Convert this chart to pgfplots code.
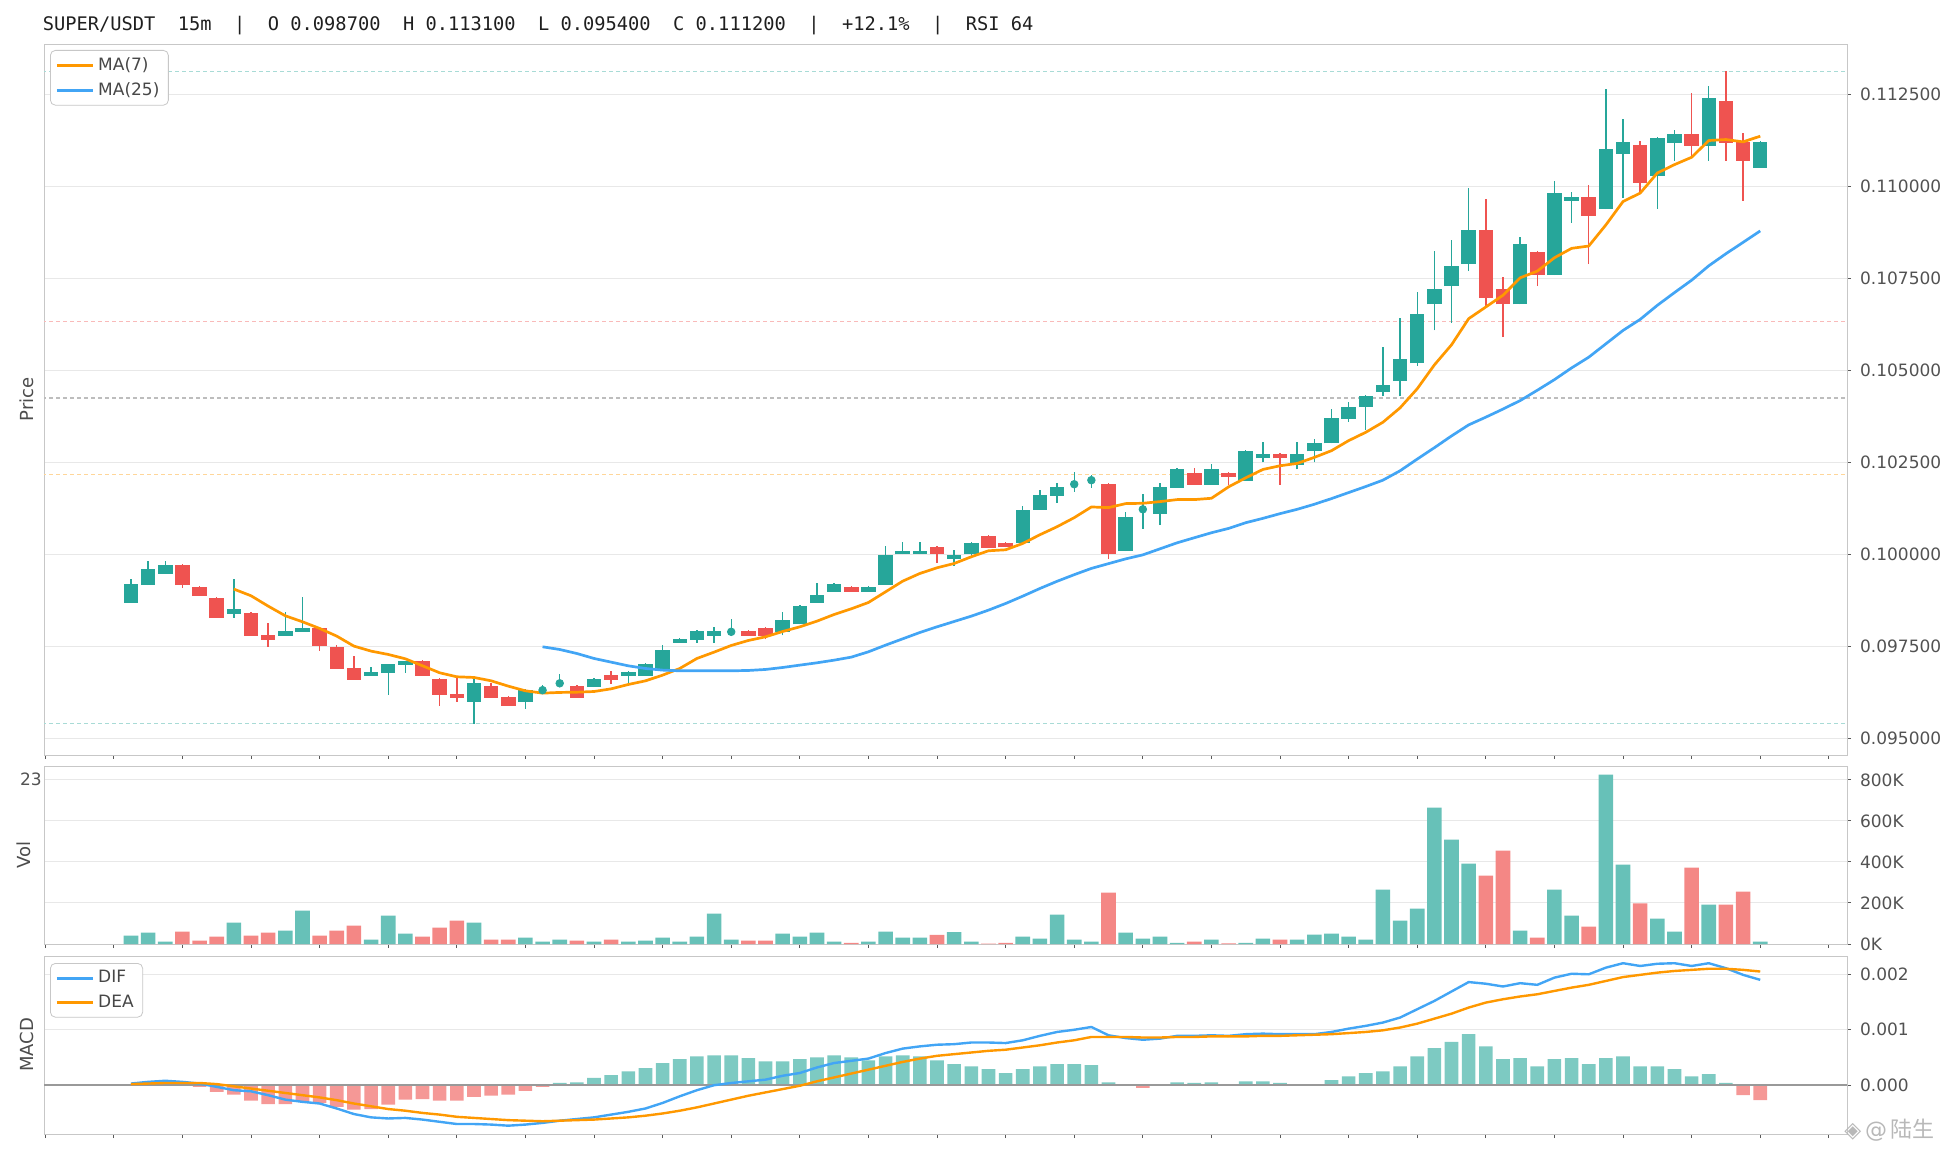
\documentclass[border=0pt]{standalone}
\usepackage{pgfplots}
\pgfplotsset{compat=1.18}
\usepackage{pgfplotstable}
\usepackage{fontspec}
\setmainfont{DejaVu Sans}
\newfontfamily\mono{DejaVu Sans Mono}
\newfontfamily\cjk{Noto Sans CJK SC}
\definecolor{cg}{HTML}{26A69A}
\definecolor{cr}{HTML}{EF5350}
\definecolor{vg}{HTML}{67C1B8}
\definecolor{vr}{HTML}{F48785}
\definecolor{hg}{HTML}{7DCAC2}
\definecolor{hr}{HTML}{F59896}
\definecolor{ma7}{HTML}{FF9800}
\definecolor{ma25}{HTML}{42A5F5}
\definecolor{fibt}{HTML}{A8DBD6}
\definecolor{fibo}{HTML}{FFD699}
\definecolor{fibg}{HTML}{BDBDBD}
\definecolor{fibr}{HTML}{F9BAB9}

\pgfplotstableread{
i o h l c
0 0.098686 0.099320 0.098686 0.099194
1 0.099166 0.099819 0.099166 0.099601
2 0.099475 0.099819 0.099475 0.099710
6 0.098387 0.099320 0.098279 0.098514
9 0.097789 0.098424 0.097789 0.097916
10 0.097898 0.098840 0.097898 0.097998
14 0.096702 0.096938 0.096702 0.096802
15 0.096784 0.097019 0.096186 0.097019
16 0.097001 0.097101 0.096784 0.097101
20 0.095995 0.096603 0.095400 0.096503
23 0.095995 0.096340 0.095805 0.096312
27 0.096393 0.096638 0.096393 0.096611
29 0.096702 0.096828 0.096502 0.096792
30 0.096702 0.097046 0.096702 0.097010
31 0.096874 0.097536 0.096874 0.097400
32 0.097598 0.097725 0.097598 0.097689
33 0.097680 0.097934 0.097598 0.097907
34 0.097789 0.098016 0.097598 0.097907
38 0.097898 0.098423 0.097798 0.098206
39 0.098097 0.098631 0.098097 0.098595
40 0.098686 0.099211 0.098686 0.098894
41 0.098985 0.099220 0.098985 0.099193
43 0.098985 0.099139 0.098985 0.099111
44 0.099176 0.100226 0.099176 0.099982
45 0.100009 0.100334 0.100009 0.100090
46 0.100009 0.100334 0.100009 0.100090
48 0.099882 0.100117 0.099692 0.099982
49 0.100009 0.100334 0.099891 0.100298
52 0.100298 0.101313 0.100298 0.101204
53 0.101208 0.101745 0.101208 0.101608
54 0.101590 0.101936 0.101399 0.101827
58 0.100089 0.101144 0.100089 0.101008
60 0.101099 0.101936 0.100798 0.101827
61 0.101808 0.102345 0.101808 0.102318
63 0.101890 0.102455 0.101890 0.102318
65 0.101999 0.102828 0.101999 0.102800
66 0.102609 0.103046 0.102500 0.102718
68 0.102418 0.103046 0.102309 0.102718
69 0.102800 0.103137 0.102500 0.103019
70 0.103019 0.103956 0.103019 0.103710
71 0.103692 0.104147 0.103610 0.104002
72 0.104002 0.104338 0.103392 0.104302
73 0.104411 0.105640 0.104293 0.104602
74 0.104711 0.106431 0.104293 0.105312
75 0.105194 0.107141 0.105121 0.106522
76 0.106797 0.108235 0.106087 0.107225
77 0.107288 0.108535 0.106296 0.107825
78 0.107889 0.109955 0.107698 0.108808
81 0.106797 0.108635 0.106797 0.108426
83 0.107589 0.110137 0.107589 0.109818
84 0.109609 0.109845 0.109008 0.109709
86 0.109381 0.112657 0.109381 0.111019
87 0.110892 0.111838 0.109691 0.111210
89 0.110291 0.111347 0.109390 0.111320
90 0.111192 0.111538 0.110701 0.111429
92 0.111110 0.112739 0.110701 0.112412
95 0.110510 0.111238 0.110510 0.111200
}\greenC

\pgfplotstableread{
i o h l c m
24 0.096294 0.096449 0.096240 0.096330 0.096312
25 0.096476 0.096748 0.096403 0.096521 0.096498
35 0.097870 0.098242 0.097807 0.097925 0.097897
55 0.101881 0.102236 0.101699 0.101936 0.101908
56 0.101990 0.102145 0.101808 0.102045 0.102017
59 0.101199 0.101636 0.100698 0.101253 0.101226
}\dojiC

\pgfplotstableread{
i o h l c
3 0.099710 0.099737 0.099094 0.099166
4 0.099112 0.099140 0.098877 0.098877
5 0.098813 0.098840 0.098279 0.098279
7 0.098405 0.098432 0.097789 0.097789
8 0.097807 0.098134 0.097490 0.097680
11 0.097998 0.097998 0.097382 0.097509
12 0.097490 0.097527 0.096892 0.096892
13 0.096910 0.097237 0.096593 0.096593
17 0.097092 0.097128 0.096702 0.096702
18 0.096612 0.096648 0.095887 0.096186
19 0.096213 0.096630 0.095995 0.096104
21 0.096421 0.096512 0.096104 0.096104
22 0.096122 0.096150 0.095887 0.095887
26 0.096420 0.096447 0.096103 0.096103
28 0.096720 0.096828 0.096484 0.096593
36 0.097916 0.097943 0.097789 0.097789
37 0.097988 0.098016 0.097689 0.097789
42 0.099111 0.099139 0.098985 0.098985
47 0.100198 0.100226 0.099773 0.100009
50 0.100497 0.100524 0.100180 0.100180
51 0.100298 0.100334 0.100189 0.100189
57 0.101909 0.101936 0.099879 0.100025
62 0.102209 0.102345 0.101890 0.101890
64 0.102209 0.102236 0.101890 0.102109
67 0.102718 0.102746 0.101890 0.102609
79 0.108808 0.109654 0.106697 0.106979
80 0.107225 0.107543 0.105905 0.106797
82 0.108207 0.108235 0.107288 0.107589
85 0.109709 0.110036 0.107889 0.109199
88 0.111128 0.111238 0.109845 0.110100
91 0.111429 0.112548 0.110828 0.111110
93 0.112330 0.113149 0.110701 0.111192
94 0.111210 0.111456 0.109609 0.110701
}\redC

\pgfplotstableread{
i v
6 0.099058
7 0.098877
8 0.098596
9 0.098333
10 0.098170
11 0.097989
12 0.097780
13 0.097509
14 0.097373
15 0.097282
16 0.097164
17 0.096974
18 0.096784
19 0.096675
20 0.096657
21 0.096566
22 0.096421
23 0.096294
24 0.096231
25 0.096250
26 0.096257
27 0.096275
28 0.096348
29 0.096466
30 0.096565
31 0.096720
32 0.096901
33 0.097173
34 0.097345
35 0.097526
36 0.097662
37 0.097761
38 0.097906
39 0.098033
40 0.098187
41 0.098368
42 0.098522
43 0.098694
44 0.098984
45 0.099274
46 0.099483
47 0.099637
48 0.099754
49 0.099936
50 0.100099
51 0.100126
52 0.100298
53 0.100535
54 0.100753
55 0.100999
56 0.101290
57 0.101272
58 0.101381
59 0.101390
60 0.101435
61 0.101490
62 0.101490
63 0.101526
64 0.101836
65 0.102081
66 0.102309
67 0.102409
68 0.102473
69 0.102637
70 0.102819
71 0.103092
72 0.103319
73 0.103592
74 0.103983
75 0.104502
76 0.105150
77 0.105696
78 0.106406
79 0.106724
80 0.107043
81 0.107516
82 0.107698
83 0.108062
84 0.108317
85 0.108380
86 0.108954
87 0.109590
88 0.109818
89 0.110364
90 0.110592
91 0.110792
92 0.111247
93 0.111274
94 0.111210
95 0.111365
}\maseven

\pgfplotstableread{
i v
24 0.097490
25 0.097417
26 0.097308
27 0.097173
28 0.097073
29 0.096973
30 0.096901
31 0.096856
32 0.096838
33 0.096838
34 0.096838
35 0.096838
36 0.096847
37 0.096874
38 0.096928
39 0.096992
40 0.097055
41 0.097127
42 0.097209
43 0.097354
44 0.097535
45 0.097707
46 0.097879
47 0.098033
48 0.098178
49 0.098323
50 0.098486
51 0.098667
52 0.098866
53 0.099075
54 0.099270
55 0.099450
56 0.099620
57 0.099750
58 0.099879
59 0.099988
60 0.100152
61 0.100316
62 0.100453
63 0.100589
64 0.100707
65 0.100862
66 0.100980
67 0.101108
68 0.101226
69 0.101363
70 0.101517
71 0.101681
72 0.101845
73 0.102018
74 0.102273
75 0.102591
76 0.102900
77 0.103220
78 0.103520
79 0.103730
80 0.103950
81 0.104180
82 0.104460
83 0.104750
84 0.105068
85 0.105359
86 0.105723
87 0.106087
88 0.106387
89 0.106769
90 0.107115
91 0.107452
92 0.107843
93 0.108171
94 0.108480
95 0.108790
}\matwentyfive

\pgfplotstableread{
i v
0 40.6
1 55
2 11
6 104
9 65
10 163
14 21
15 138
16 50
20 104
23 31
24 11
25 21
27 11
29 11
30 16
31 31
32 11
33 36
34 148
35 21
38 50
39 36
40 55
41 11
43 11
44 60
45 31
46 31
48 58
49 11
52 36
53 26
54 143
55 21
56 11
58 55
59 26
60 36
61 6
63 21
65 6
66 26
68 21
69 46
70 50
71 36
72 21
73 265
74 114
75 172
76 665
77 509
78 392
81 65
83 265
84 138
86 826
87 387
89 124
90 60
92 192
95 11
}\volG

\pgfplotstableread{
i v
3 60
4 16
5 36
7 41
8 55
11 41
12 65
13 89
17 36
18 80
19 114
21 21
22 21
26 16
28 21
36 16
37 16
42 6
47 45
50 2
51 5
57 250
62 11
64 3
67 21
79 333
80 455
82 31
85 85
88 198
91 372
93 192
94 255
}\volR

\pgfplotstableread{
i dif dea
0 0.00003 0.00002
1 0.00006 0.00003
2 0.00008 0.00004
3 0.00006 0.00004
4 0.00003 0.00004
5 -0.00003 0.00002
6 -0.00009 -0.00002
7 -0.00011 -0.00006
8 -0.00018 -0.00010
9 -0.00026 -0.00014
10 -0.00030 -0.00018
11 -0.00033 -0.00022
12 -0.00042 -0.00027
13 -0.00052 -0.00033
14 -0.00058 -0.00038
15 -0.00060 -0.00043
16 -0.00059 -0.00046
17 -0.00062 -0.00050
18 -0.00066 -0.00053
19 -0.00070 -0.00057
20 -0.00070 -0.00059
21 -0.00071 -0.00061
22 -0.00073 -0.00063
23 -0.00071 -0.00064
24 -0.00068 -0.00065
25 -0.00064 -0.00064
26 -0.00061 -0.00063
27 -0.00058 -0.00062
28 -0.00053 -0.00060
29 -0.00048 -0.00058
30 -0.00042 -0.00055
31 -0.00032 -0.00051
32 -0.00020 -0.00046
33 -0.00009 -0.00040
34 0.00000 -0.00033
35 0.00004 -0.00026
36 0.00007 -0.00019
37 0.00010 -0.00013
38 0.00017 -0.00007
39 0.00022 -0.00001
40 0.00032 0.00007
41 0.00040 0.00014
42 0.00044 0.00021
43 0.00048 0.00028
44 0.00058 0.00035
45 0.00066 0.00042
46 0.00070 0.00048
47 0.00073 0.00053
48 0.00074 0.00056
49 0.00077 0.00059
50 0.00077 0.00062
51 0.00076 0.00064
52 0.00081 0.00068
53 0.00089 0.00072
54 0.00096 0.00077
55 0.00100 0.00081
56 0.00105 0.00087
57 0.00090 0.00087
58 0.00085 0.00087
59 0.00082 0.00086
60 0.00084 0.00086
61 0.00089 0.00087
62 0.00089 0.00087
63 0.00090 0.00088
64 0.00089 0.00088
65 0.00092 0.00088
66 0.00093 0.00089
67 0.00092 0.00089
68 0.00092 0.00090
69 0.00092 0.00091
70 0.00096 0.00092
71 0.00102 0.00094
72 0.00107 0.00096
73 0.00113 0.00099
74 0.00122 0.00104
75 0.00137 0.00111
76 0.00152 0.00120
77 0.00169 0.00129
78 0.00186 0.00140
79 0.00183 0.00149
80 0.00178 0.00155
81 0.00184 0.00160
82 0.00181 0.00164
83 0.00194 0.00170
84 0.00201 0.00176
85 0.00200 0.00181
86 0.00212 0.00188
87 0.00220 0.00195
88 0.00215 0.00199
89 0.00219 0.00203
90 0.00220 0.00206
91 0.00215 0.00208
92 0.00220 0.00210
93 0.00211 0.00210
94 0.00199 0.00208
95 0.00190 0.00205
}\macdT

\pgfplotstableread{
i v
0 0.00001
1 0.00002
2 0.00002
3 0.00001
25 0.00004
26 0.00005
27 0.00013
28 0.00018
29 0.00025
30 0.00031
31 0.00040
32 0.00047
33 0.00052
34 0.00054
35 0.00054
36 0.00049
37 0.00043
38 0.00043
39 0.00047
40 0.00050
41 0.00054
42 0.00050
43 0.00045
44 0.00052
45 0.00054
46 0.00052
47 0.00045
48 0.00038
49 0.00034
50 0.00029
51 0.00022
52 0.00029
53 0.00034
54 0.00038
55 0.00038
56 0.00036
57 0.00005
61 0.00005
62 0.00004
63 0.00005
64 0.00002
65 0.00007
66 0.00007
67 0.00004
68 0.00002
69 0.00002
70 0.00009
71 0.00016
72 0.00022
73 0.00025
74 0.00034
75 0.00052
76 0.00067
77 0.00078
78 0.00092
79 0.00070
80 0.00047
81 0.00049
82 0.00034
83 0.00047
84 0.00049
85 0.00038
86 0.00049
87 0.00052
88 0.00034
89 0.00034
90 0.00029
91 0.00016
92 0.00020
93 0.00004
}\histP

\pgfplotstableread{
i v
4 -0.00003
5 -0.00012
6 -0.00017
7 -0.00028
8 -0.00034
9 -0.00034
10 -0.00030
11 -0.00032
12 -0.00039
13 -0.00044
14 -0.00043
15 -0.00035
16 -0.00026
17 -0.00025
18 -0.00028
19 -0.00028
20 -0.00021
21 -0.00019
22 -0.00017
23 -0.00010
24 -0.00003
59 -0.00005
94 -0.00018
95 -0.00027
}\histN

\pgfplotsset{
  panel/.style={
    scale only axis, width=901.5pt,
    xmin=-5.07, xmax=100.06,
    axis line style={draw=black!22},
    xtick={-5,-1,...,99}, xticklabels={},
    xticklabel style={opacity=0},
    xtick pos=bottom, ytick pos=right, yticklabel pos=right,
    tick align=outside, major tick length=2pt,
    tick style={black!65, line width=0.5pt},
    ymajorgrids, grid style={black!9, line width=0.5pt},
    tick label style={font=\fontsize{8.5}{10}\selectfont, text=black!68},
    yticklabel style={anchor=west, xshift=1pt},
    /pgf/number format/assume math mode=true,
    scaled y ticks=false,
    legend cell align=left,
    legend image code/.code={\draw[##1, line width=1.4pt] (0pt,0pt) -- (18pt,0pt);},
    legend style={at={(0,1)}, anchor=north west, xshift=3pt, yshift=-3pt,
      draw=black!22, rounded corners=2.5pt, fill=white,
      font=\fontsize{8.5}{10}\selectfont, text=black!72,
      inner xsep=2.5pt, inner ysep=1.5pt, row sep=0.5pt},
  },
  fib/.style={forget plot, line width=0.55pt, dash pattern=on 2.2pt off 1.3pt},
}

\begin{document}
\begin{tikzpicture}
\path[use as bounding box] (0,0) rectangle (978.5pt,578pt);

% title
\node[anchor=base west, font=\mono\fontsize{9.35}{11}\selectfont, text=black!88, inner sep=0pt]
  at (21.2pt,562.5pt) {SUPER/USDT~~15m~~|~~O~0.098700~~H~0.113100~~L~0.095400~~C~0.111200~~|~~+12.1\%~~|~~RSI~64};

% ---------- price ----------
\begin{axis}[panel, at={(22pt,200.5pt)}, anchor=south west, height=355.5pt,
  ymin=0.09455, ymax=0.11387,
  ytick={0.095,0.0975,0.1,0.1025,0.105,0.1075,0.11,0.1125},
  yticklabel={\pgfmathprintnumber[fixed,fixed zerofill,precision=6]{\tick}},
]
\addplot[fib, color=fibt] coordinates {(-6,0.113131) (101,0.113131)};
\addplot[fib, color=fibr] coordinates {(-6,0.106341) (101,0.106341)};
\addplot[fib, color=fibg] coordinates {(-6,0.104250) (101,0.104250)};
\addplot[fib, color=fibo] coordinates {(-6,0.102160) (101,0.102160)};
\addplot[fib, color=fibt] coordinates {(-6,0.095400) (101,0.095400)};
% wicks
\addplot[forget plot, draw=none, mark=none, error bars/.cd, y dir=plus, y explicit, error mark=none,
  error bar style={draw=cg, line width=0.7pt}]
  table[x=i, y=l, y error expr=\thisrow{h}-\thisrow{l}] {\greenC};
\addplot[forget plot, draw=none, mark=none, error bars/.cd, y dir=plus, y explicit, error mark=none,
  error bar style={draw=cg, line width=0.7pt}]
  table[x=i, y=l, y error expr=\thisrow{h}-\thisrow{l}] {\dojiC};
\addplot[forget plot, draw=none, mark=none, error bars/.cd, y dir=plus, y explicit, error mark=none,
  error bar style={draw=cr, line width=0.7pt}]
  table[x=i, y=l, y error expr=\thisrow{h}-\thisrow{l}] {\redC};
% bodies
\addplot[forget plot, draw=none, mark=none, error bars/.cd, y dir=plus, y explicit, error mark=none,
  error bar style={draw=cg, line width=7.25pt}]
  table[x=i, y=o, y error expr=\thisrow{c}-\thisrow{o}] {\greenC};
\addplot[forget plot, draw=none, mark=none, error bars/.cd, y dir=plus, y explicit, error mark=none,
  error bar style={draw=cr, line width=7.25pt}]
  table[x=i, y=c, y error expr=\thisrow{o}-\thisrow{c}] {\redC};
\addplot[forget plot, only marks, mark=*, mark size=1.9pt, color=cg, mark options={draw=cg, fill=cg}]
  table[x=i, y=m] {\dojiC};
% MAs
\addplot[ma7, line width=1.35pt, line join=round, mark=none] table[x=i, y=v] {\maseven};
\addlegendentry{MA(7)}
\addplot[ma25, line width=1.35pt, line join=round, mark=none] table[x=i, y=v] {\matwentyfive};
\addlegendentry{MA(25)}
\end{axis}

% ---------- volume ----------
\begin{axis}[panel, at={(22pt,106pt)}, anchor=south west, height=89pt,
  ymin=0, ymax=868,
  ytick={0,200,400,600,800}, yticklabels={0K,200K,400K,600K,800K},
]
\addplot[ybar, bar width=7.3pt, bar shift=0pt, fill=vg, draw=none] table[x=i, y=v] {\volG};
\addplot[ybar, bar width=7.3pt, bar shift=0pt, fill=vr, draw=none] table[x=i, y=v] {\volR};
\end{axis}

% ---------- MACD ----------
\begin{axis}[panel, at={(22pt,11pt)}, anchor=south west, height=89pt,
  ymin=-0.00088, ymax=0.00233,
  ytick={0,0.001,0.002}, yticklabels={0.000,0.001,0.002},
  legend style={yshift=-0.5pt},
]
\addplot[forget plot, ybar, bar width=6.8pt, bar shift=0pt, fill=hg, draw=none] table[x=i, y=v] {\histP};
\addplot[forget plot, ybar, bar width=6.8pt, bar shift=0pt, fill=hr, draw=none] table[x=i, y=v] {\histN};
\addplot[forget plot, black!40, line width=0.8pt] coordinates {(-6,0) (101,0)};
\addplot[ma25, line width=1.2pt, line join=round, mark=none] table[x=i, y=dif] {\macdT};
\addlegendentry{DIF}
\addplot[ma7, line width=1.2pt, line join=round, mark=none] table[x=i, y=dea] {\macdT};
\addlegendentry{DEA}
\end{axis}

% axis labels
\node[rotate=90, anchor=base, font=\fontsize{9}{10}\selectfont, text=black!70, inner sep=0pt] at (16.6pt,378.25pt) {Price};
\node[rotate=90, anchor=base, font=\fontsize{9}{10}\selectfont, text=black!70, inner sep=0pt] at (15.4pt,150.5pt) {Vol};
\node[rotate=90, anchor=base, font=\fontsize{9}{10}\selectfont, text=black!70, inner sep=0pt] at (16.6pt,55.5pt) {MACD};
\node[font=\fontsize{8.5}{10}\selectfont, text=black!68, inner sep=0pt] at (15.5pt,188.5pt) {23};

% watermark
\node[anchor=west, inner sep=0pt, text=black!28, font=\fontsize{11}{12}\selectfont] at (922pt,13pt) {◈\,@\,{\cjk 陆生}};
\end{tikzpicture}
\end{document}
